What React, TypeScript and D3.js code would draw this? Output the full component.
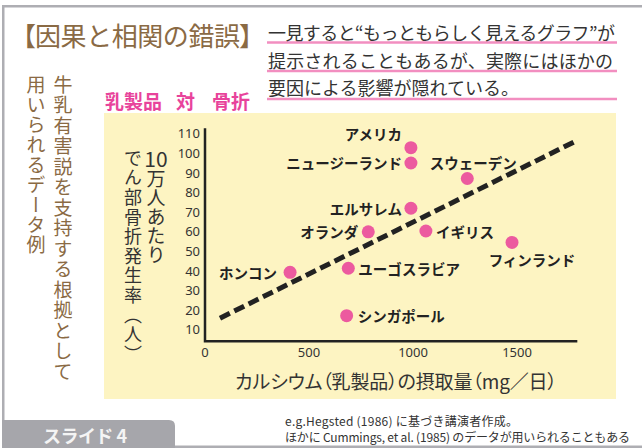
import React from "react";
import * as d3 from "d3";

// ---- data ----
const countries = [
  "アメリカ",
  "ニュージーランド",
  "スウェーデン",
  "エルサレム",
  "オランダ",
  "イギリス",
  "フィンランド",
  "ホンコン",
  "ユーゴスラビア",
  "シンガポール",
];
const calciumIntake = [990, 990, 1261, 990, 785, 1062, 1476, 409, 689, 681];
const fractureRate = [102.7, 94.9, 87, 71.8, 59.8, 60.2, 54.4, 39.1, 41.2, 17];
const trendX = [72, 1787];
const trendY = [15.7, 106.3];
const xTicks = [0, 500, 1000, 1500];
const yTicks = [10, 20, 30, 40, 50, 60, 70, 80, 90, 100, 110];

const title = "因果と相関の錯誤";
const headerLines = [
  "一見すると“もっともらしく見えるグラフ”が",
  "提示されることもあるが、実際にはほかの",
  "要因による影響が隠れている。",
];
const sideColRight = "牛乳有害説を支持する根拠として";
const sideColLeft = "用いられるデータ例";
const chartTitleParts = ["乳製品", "対", "骨折"];
const yTitleTop = "10";
const yTitleRight = "万人あたり";
const yTitleLeft = "でん部骨折発生率（人）";
const xTitle = "カルシウム（乳製品）の摂取量（mg／日）";
const captionLines = [
  "e.g.Hegsted (1986) に基づき講演者作成。",
  "ほかに Cummings, et al. (1985) のデータが用いられることもある",
];
const slideLabel = "スライド 4";

// label placement (anchor, dx, dy) per point — layout only
const labelPlacement: [string, number, number][] = [
  ["end", -9, -14],
  ["end", -9, 0],
  ["middle", 6, -16],
  ["end", -9, 0],
  ["end", -10, 0],
  ["start", 10, 0],
  ["middle", 20, 17],
  ["end", -13, 0],
  ["start", 10, 0],
  ["start", 11, 0],
];

const JP = "'Noto Sans CJK JP', 'Noto Sans', sans-serif";
const NUM = "'Noto Sans', 'Open Sans', sans-serif";

export default function App() {
  const W = 642;
  const H = 448;
  const x = d3.scaleLinear().domain([0, 1500]).range([205, 517]);
  const y = d3.scaleLinear().domain([0, 110]).range([349, 133.4]);

  const axisX0 = x(0);
  const axisY0 = y(4);
  const axisYTop = y(112.6);
  const axisXEnd = x(1790);

  const trendLine = d3
    .line<number>()
    .x((_, i) => x(trendX[i]))
    .y((_, i) => y(trendY[i]));

  const brown = "#8a6a44";
  const pink = "#ec5a9f";
  const dark = "#222";
  const textCol = "#333";

  const headerWidths = [347, 345, null];
  const headerY = [32, 60, 87];
  const underlineY = [42.5, 71, 99];

  return (
    <svg
      width={W}
      height={H}
      style={{ position: "absolute", left: 0, top: 0, background: "#fff" }}
    >
      {/* frame */}
      <rect x={3.25} y={6.25} width={720} height={440.5} fill="#fff" stroke="#aeaeb3" strokeWidth={2.5} />

      {/* title */}
      <text x={36} y={34} fontFamily={JP} fontSize={26} fill={brown} textAnchor="end" dominantBaseline="central">【</text>
      <text x={35} y={34} fontFamily={JP} fontSize={26} fill={brown} dominantBaseline="central" textLength={205} lengthAdjust="spacing">{title}</text>
      <text x={239} y={34} fontFamily={JP} fontSize={26} fill={brown} dominantBaseline="central">】</text>

      {/* header text with pink underlines */}
      {headerLines.map((t, i) => (
        <g key={i}>
          <line x1={267} x2={617} y1={underlineY[i]} y2={underlineY[i]} stroke="#f28ec0" strokeWidth={2.5} />
          <text
            x={268}
            y={headerY[i]}
            fontFamily={JP}
            fontSize={18}
            fill={textCol}
            dominantBaseline="central"
            {...(headerWidths[i] ? { textLength: headerWidths[i], lengthAdjust: "spacing" } : {})}
          >
            {t}
          </text>
        </g>
      ))}

      {/* side vertical text */}
      <text x={63} y={75} fontFamily={JP} fontSize={19} fill={brown} style={{ writingMode: "vertical-rl" as any }} letterSpacing={1.5}>
        {sideColRight}
      </text>
      <text x={36} y={75} fontFamily={JP} fontSize={19} fill={brown} style={{ writingMode: "vertical-rl" as any }} letterSpacing={1}>
        {sideColLeft}
      </text>

      {/* chart title */}
      <text x={105} y={100} fontFamily={JP} fontSize={19} fontWeight={700} fill="#e8439b" dominantBaseline="central">{chartTitleParts[0]}</text>
      <text x={176} y={100} fontFamily={JP} fontSize={19} fontWeight={700} fill="#e8439b" dominantBaseline="central">{chartTitleParts[1]}</text>
      <text x={212} y={100} fontFamily={JP} fontSize={19} fontWeight={700} fill="#e8439b" dominantBaseline="central">{chartTitleParts[2]}</text>

      {/* yellow panel */}
      <rect x={104} y={113} width={512} height={286} fill="#fdf4c2" />

      {/* y-axis title */}
      <text x={156} y={158} fontFamily={JP} fontSize={21} fill={textCol} textAnchor="middle" dominantBaseline="central">{yTitleTop}</text>
      <text x={156} y={169} fontFamily={JP} fontSize={19} fill={textCol} style={{ writingMode: "vertical-rl" as any }}>{yTitleRight}</text>
      <text x={133} y={149} fontFamily={JP} fontSize={18} fill={textCol} style={{ writingMode: "vertical-rl" as any }} letterSpacing={1.6}>{yTitleLeft}</text>

      {/* axes */}
      <path
        d={`M${axisX0},${axisYTop} L${axisX0},${axisY0} L${axisXEnd},${axisY0}`}
        fill="none"
        stroke={dark}
        strokeWidth={2.5}
      />
      {yTicks.map((t) => (
        <text key={t} x={200} y={y(t)} fontFamily={NUM} fontSize={13} fill={textCol} textAnchor="end" dominantBaseline="central">
          {t}
        </text>
      ))}
      {xTicks.map((t) => (
        <text key={t} x={x(t)} y={352} fontFamily={NUM} fontSize={13} fill={textCol} textAnchor="middle" dominantBaseline="central">
          {t}
        </text>
      ))}

      {/* x-axis title */}
      <text
        x={235}
        y={380}
        fontFamily={JP}
        fontSize={19}
        fill={textCol}
        dominantBaseline="central"
        textLength={322}
        lengthAdjust="spacing"
        style={{ fontFeatureSettings: '"palt"' }}
      >
        {xTitle}
      </text>

      {/* trend line */}
      <path d={trendLine(trendX) || ""} fill="none" stroke={dark} strokeWidth={5} strokeDasharray="11 5" />

      {/* points */}
      {countries.map((c, i) => (
        <circle key={c} cx={x(calciumIntake[i])} cy={y(fractureRate[i])} r={6.5} fill={pink} />
      ))}
      {countries.map((c, i) => {
        const [anchor, dx, dy] = labelPlacement[i];
        return (
          <text
            key={"l" + c}
            x={x(calciumIntake[i]) + dx}
            y={y(fractureRate[i]) + dy}
            fontFamily={JP}
            fontSize={14.5}
            fontWeight={700}
            fill={dark}
            textAnchor={anchor as any}
            dominantBaseline="central"
          >
            {c}
          </text>
        );
      })}

      {/* caption */}
      <text x={285} y={420} fontFamily={JP} fontSize={12} fill={textCol} dominantBaseline="central" textLength={233} lengthAdjust="spacing">
        {captionLines[0]}
      </text>
      <text x={285} y={436} fontFamily={JP} fontSize={12} fill={textCol} dominantBaseline="central" textLength={345} lengthAdjust="spacing">
        {captionLines[1]}
      </text>

      {/* slide tab */}
      <path d="M2,420 H169 Q175,420 175,426 V448 H2 Z" fill="#a6a6ab" />
      <text x={43} y={435} fontFamily={JP} fontSize={18} fontWeight={700} fill="#f4f4f4" dominantBaseline="central" textLength={84} lengthAdjust="spacing">
        {slideLabel}
      </text>
    </svg>
  );
}
